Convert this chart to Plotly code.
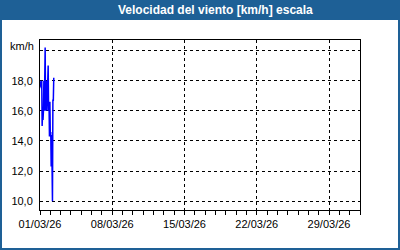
import plotly.graph_objects as go
import pandas as pd

# ---- data ----
start_time = "2026-03-01 00:00"
wind_kmh = [18.0, 17.6, 17.8, 17.5, 18.0, 15.0, 15.8, 15.4, 16.0, 18.0, 16.0,
            18.0, 20.2, 16.0, 17.0, 18.0, 16.0, 18.3, 17.5, 19.0, 16.0, 16.5,
            14.3, 16.6, 14.4, 14.6, 12.3, 14.4, 12.3, 10.0, 16.7, 16.7, 18.2]
times = pd.date_range(start_time, periods=len(wind_kmh), freq="h")

y_tick_vals = [10, 12, 14, 16, 18, 20]
y_tick_text = ["10,0", "12,0", "14,0", "16,0", "18,0", ""]
x_tick_vals = ["2026-03-01", "2026-03-08", "2026-03-15", "2026-03-22", "2026-03-29"]
x_tick_text = ["01/03/26", "08/03/26", "15/03/26", "22/03/26", "29/03/26"]
x_range = ["2026-03-01", "2026-04-01"]
y_range = [9.42, 20.7]
title_text = "Velocidad del viento [km/h] escala"
unit_text = "km/h"

# ---- layout constants (pixels) ----
W, H = 400, 250
L, R, T, B = 40, 40, 40, 40
PW, PH = W - L - R, H - T - B


def px_x(x):
    return (x - L) / PW


def px_y(y):
    return (H - B - y) / PH


BLUE = "#1e6096"
FONT = "Liberation Sans, Arial, sans-serif"

fig = go.Figure()
fig.add_trace(go.Scatter(x=times, y=wind_kmh, mode="lines",
                         line=dict(color="#0000ff", width=1.5),
                         hoverinfo="skip", showlegend=False))

fig.update_layout(
    width=W, height=H,
    margin=dict(l=L, r=R, t=T, b=B, pad=0),
    paper_bgcolor="white", plot_bgcolor="white",
    font=dict(family=FONT, size=11, color="black"),
    xaxis=dict(
        type="date", range=x_range,
        tickvals=x_tick_vals, ticktext=x_tick_text,
        showgrid=True, gridcolor="black", griddash="3px,3px", gridwidth=1,
        showline=True, linecolor="black", linewidth=1, mirror=True,
        ticks="outside", ticklen=4, tickcolor="black",
        minor=dict(dtick=86400000, ticks="outside", ticklen=4, tickcolor="black",
                   showgrid=False),
        tickfont=dict(family=FONT, size=11),
        zeroline=False,
    ),
    yaxis=dict(
        range=y_range,
        tickvals=y_tick_vals, ticktext=y_tick_text,
        showgrid=True, gridcolor="black", griddash="3px,3px", gridwidth=1,
        showline=True, linecolor="black", linewidth=1, mirror=True,
        ticks="", ticklabelstandoff=4,
        tickfont=dict(family=FONT, size=11),
        zeroline=False,
    ),
    shapes=[
        dict(type="rect", xref="paper", yref="paper",
             x0=px_x(0), x1=px_x(W), y0=px_y(20), y1=px_y(0),
             fillcolor=BLUE, line=dict(width=0), layer="below"),
        dict(type="rect", xref="paper", yref="paper",
             x0=px_x(1), x1=px_x(W - 1), y0=px_y(H - 1), y1=px_y(1),
             fillcolor="rgba(0,0,0,0)", line=dict(color=BLUE, width=2)),
    ],
    annotations=[
        dict(text="<b>" + title_text + "</b>", xref="paper", yref="paper",
             x=px_x(215), y=px_y(10), showarrow=False,
             font=dict(family=FONT, size=12, color="white"),
             xanchor="center", yanchor="middle"),
        dict(text=unit_text, xref="paper", yref="paper",
             x=px_x(36), y=px_y(46), showarrow=False,
             font=dict(family=FONT, size=11, color="black"),
             xanchor="right", yanchor="middle"),
    ],
)

fig.write_html("out.html", config={"displayModeBar": False})
